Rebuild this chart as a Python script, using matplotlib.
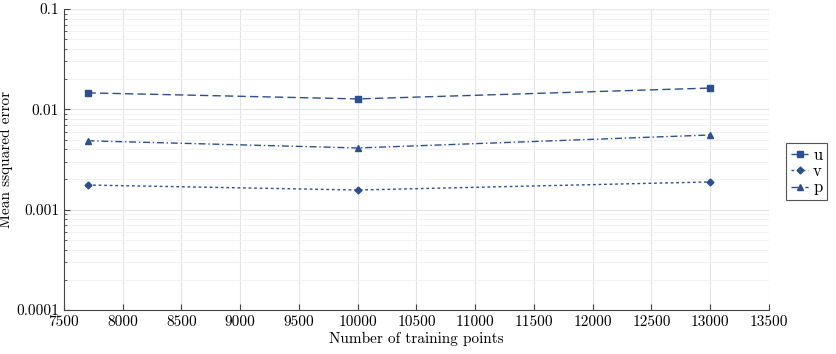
import numpy as np
import matplotlib.pyplot as plt
from matplotlib.ticker import LogLocator, NullFormatter

plt.rcParams['font.family'] = ['cmr10', 'DejaVu Serif']
plt.rcParams['axes.formatter.use_mathtext'] = True

# Dados
n_points = [7700, 10000, 13000]
mse_u = [0.0146, 0.0127, 0.0163]
mse_v = [0.00176, 0.00157, 0.00189]
mse_p = [0.00486, 0.00412, 0.00555]

x_ticks = list(range(7500, 14000, 500))
y_ticks = [0.0001, 0.001, 0.01, 0.1]
y_labels = ['0.0001', '0.001', '0.01', '0.1']

cor = '#2d4f8e'

fig = plt.figure(figsize=(8.37, 3.54), dpi=100)
ax = fig.add_axes([64 / 837, 44 / 354, 705 / 837, 301 / 354])

ax.plot(n_points, mse_u, linestyle=(0, (6, 3)), color=cor, lw=1.0,
        marker='s', ms=5, label='u')
ax.plot(n_points, mse_v, linestyle=(0, (2, 2)), color=cor, lw=1.0,
        marker='D', ms=3.5, label='v')
ax.plot(n_points, mse_p, linestyle=(0, (5, 2, 1, 2)), color=cor, lw=1.0,
        marker='^', ms=5, label='p')

ax.set_yscale('log')
ax.set_xlim(7500, 13500)
ax.set_ylim(0.0001, 0.1)
ax.set_xticks(x_ticks)
ax.set_xticklabels([str(t) for t in x_ticks])
ax.set_yticks(y_ticks)
ax.set_yticklabels(y_labels)
ax.yaxis.set_minor_locator(LogLocator(base=10, subs=np.arange(2, 10)))
ax.yaxis.set_minor_formatter(NullFormatter())

ax.grid(True, which='major', color='#e4e4e4', lw=0.8)
ax.grid(True, which='minor', axis='y', color='#f0f0f0', lw=0.6)
ax.set_axisbelow(True)

for s in ['top', 'right']:
    ax.spines[s].set_visible(False)
for s in ['left', 'bottom']:
    ax.spines[s].set_color('#444444')
    ax.spines[s].set_linewidth(0.8)

ax.tick_params(which='major', direction='in', length=4, color='#444444',
               labelsize=11, top=False, right=False)
ax.tick_params(which='minor', direction='in', length=2, color='#444444',
               top=False, right=False)

ax.set_xlabel('Number of training points', fontsize=11, labelpad=2)
ax.set_ylabel('Mean ssquared error', fontsize=11, labelpad=2)

leg = ax.legend(loc='center left', bbox_to_anchor=(1.013, 0.46),
                fontsize=12, handlelength=1.0, handletextpad=0.3,
                borderpad=0.3, labelspacing=0.05, fancybox=False,
                framealpha=1, edgecolor='#555555')
leg.get_frame().set_linewidth(0.8)

fig.savefig('out.png', dpi=100)
